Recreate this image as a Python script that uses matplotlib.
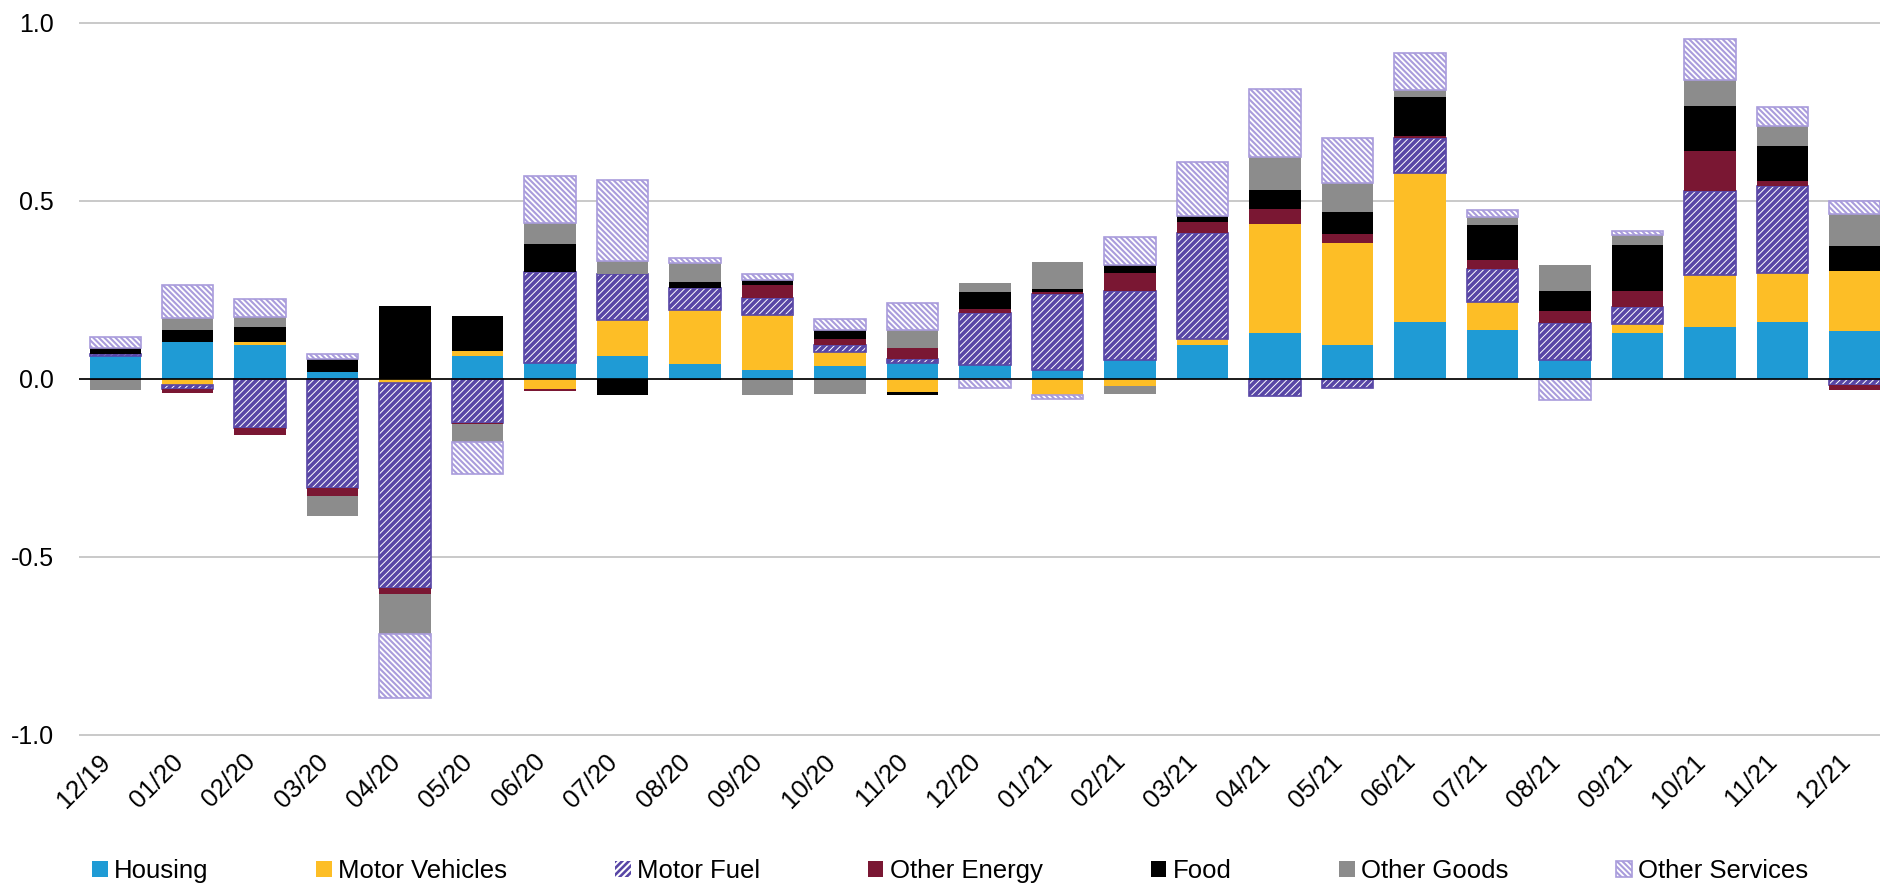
import numpy as np
import matplotlib.pyplot as plt

plt.rcParams['font.family'] = ['Liberation Sans', 'DejaVu Sans']

months = ['12/19', '01/20', '02/20', '03/20', '04/20', '05/20', '06/20',
          '07/20', '08/20', '09/20', '10/20', '11/20', '12/20', '01/21',
          '02/21', '03/21', '04/21', '05/21', '06/21', '07/21', '08/21',
          '09/21', '10/21', '11/21', '12/21']

housing = [0.064, 0.104, 0.095, 0.019, 0.0, 0.063, 0.044, 0.064, 0.041,
           0.025, 0.036, 0.043, 0.038, 0.025, 0.052, 0.095, 0.129, 0.094,
           0.158, 0.137, 0.051, 0.128, 0.146, 0.160, 0.133]
motor_vehicles = [0.0, -0.018, 0.007, 0.0, -0.011, 0.014, -0.028, 0.100,
                  0.153, 0.155, 0.039, -0.037, 0.0, -0.045, -0.022, 0.017,
                  0.306, 0.288, 0.421, 0.079, 0.0, 0.026, 0.145, 0.136, 0.168]
motor_fuel = [0.004, -0.012, -0.140, -0.307, -0.577, -0.124, 0.256, 0.130,
              0.062, 0.047, 0.020, 0.013, 0.145, 0.213, 0.195, 0.296,
              -0.049, -0.027, 0.097, 0.091, 0.105, 0.048, 0.236, 0.244, -0.017]
other_energy = [-0.004, -0.011, -0.019, -0.024, -0.018, -0.004, -0.007, 0.0,
                -0.005, 0.035, 0.016, 0.031, 0.012, 0.004, 0.049, 0.032,
                0.041, 0.025, 0.007, 0.025, 0.035, 0.045, 0.112, 0.015, -0.015]
food = [0.017, 0.032, 0.044, 0.036, 0.204, 0.100, 0.079, -0.047, 0.016,
        0.016, 0.027, -0.010, 0.048, 0.009, 0.024, 0.017, 0.053, 0.062,
        0.107, 0.100, 0.056, 0.129, 0.127, 0.099, 0.071]
other_goods = [-0.027, 0.035, 0.027, -0.056, -0.112, -0.051, 0.059, 0.037,
               0.054, -0.047, -0.043, 0.049, 0.026, 0.077, -0.021, 0.0,
               0.095, 0.081, 0.021, 0.021, 0.071, 0.028, 0.072, 0.056, 0.091]
other_services = [0.031, 0.093, 0.050, 0.015, -0.179, -0.090, 0.131, 0.228,
                  0.012, 0.015, 0.029, 0.076, -0.025, -0.012, 0.077, 0.152,
                  0.189, 0.125, 0.103, 0.021, -0.059, 0.012, 0.116, 0.054, 0.037]

# label, values, face, edge, hatch, hatch linewidth
series = [
    ('Housing', housing, '#1f9bd5', '#1f9bd5', None, 0),
    ('Motor Vehicles', motor_vehicles, '#fdbe26', '#fdbe26', None, 0),
    ('Motor Fuel', motor_fuel, '#5846a6', 'white', '/////', 0.7),
    ('Other Energy', other_energy, '#7a1733', '#7a1733', None, 0),
    ('Food', food, '#000000', '#000000', None, 0),
    ('Other Goods', other_goods, '#8c8c8c', '#8c8c8c', None, 0),
    ('Other Services', other_services, 'white', '#a99cdc', '\\' * 6, 1.5),
]

fig = plt.figure(figsize=(18.81, 8.83), dpi=100)
ax = fig.add_axes([0.042, 0.1669, 0.9633, 0.8086])

idx = np.arange(len(months))
width = 0.71
pos_base = np.zeros(len(months))
neg_base = np.zeros(len(months))

for label, vals, face, edge, hatch, hlw in series:
    vals = np.array(vals)
    bottom = np.where(vals >= 0, pos_base, neg_base)
    if hatch:
        plt.rcParams['hatch.linewidth'] = hlw
    bars = ax.bar(idx, vals, width, bottom=bottom, color=face,
                  edgecolor=edge, hatch=hatch, label=label,
                  linewidth=1.2 if label == 'Other Services' else 0,
                  zorder=2)
    if hatch:
        for b in bars:
            if hasattr(b, 'set_hatch_linewidth'):
                b.set_hatch_linewidth(hlw)
    if label == 'Motor Fuel':
        # purple outline round the white-hatched fuel bars
        ax.bar(idx, vals, width, bottom=bottom, fill=False,
               edgecolor=face, linewidth=1.2, zorder=2)
    pos_base += np.where(vals >= 0, vals, 0)
    neg_base += np.where(vals < 0, vals, 0)

ax.axhline(0, color='black', linewidth=1.2, zorder=3)

ax.set_ylim(-1.003, 1.003)
ax.set_xlim(-0.5, len(months) - 0.5)
ax.set_yticks([-1.0, -0.5, 0.0, 0.5, 1.0])
ax.set_yticklabels(['-1.0', '-0.5', '0.0', '0.5', '1.0'], fontsize=18)
ax.yaxis.grid(True, color='#c0c0c0', linewidth=1.2, zorder=0)
ax.set_axisbelow(True)
ax.set_xticks(idx)
ax.set_xticklabels(months, rotation=45, ha='right', va='top', fontsize=18.5)
ax.tick_params(axis='y', length=0, pad=18)
ax.tick_params(axis='x', length=0, pad=10)
for s in ax.spines.values():
    s.set_visible(False)

fig.legend(loc='lower left', bbox_to_anchor=(0.049, 0.0), ncol=7,
           frameon=False, fontsize=18.5, handlelength=0.6, handleheight=0.6,
           handletextpad=0.25, columnspacing=4.2, borderpad=0.0,
           borderaxespad=0)

plt.savefig('out.png', dpi=100)
